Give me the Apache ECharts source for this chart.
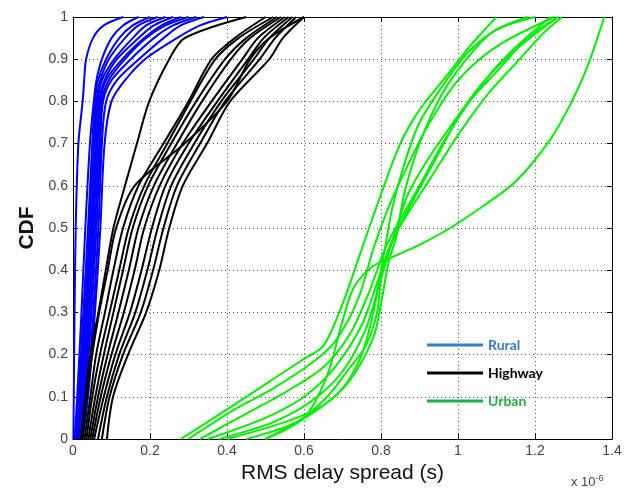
<!DOCTYPE html>
<html>
<head>
<meta charset="utf-8">
<script src="https://cdn.jsdelivr.net/npm/echarts@6/dist/echarts.min.js"></script>
<style>
html, body { margin: 0; padding: 0; background: #fff; }
#chart { width: 629px; height: 491px; }
</style>
</head>
<body>
<div id="chart"></div>
<script>
// x values are in units of 1e-6 s (axis shows "x 10^-6")
const ruralLevels = [0, 0.1, 0.3, 0.5, 0.7, 0.8, 0.85, 0.9, 0.95, 0.98, 1];
const ruralSpread = [
  [0.001, 0.002, 0.004, 0.007, 0.014, 0.025, 0.029, 0.034, 0.052, 0.08, 0.13],
  [0.004, 0.011, 0.022, 0.032, 0.044, 0.054, 0.061, 0.075, 0.1, 0.13, 0.17],
  [0.006, 0.014, 0.027, 0.039, 0.05, 0.057, 0.065, 0.086, 0.12, 0.155, 0.2],
  [0.007, 0.017, 0.031, 0.043, 0.054, 0.061, 0.071, 0.093, 0.135, 0.17, 0.22],
  [0.009, 0.02, 0.034, 0.047, 0.057, 0.064, 0.075, 0.107, 0.155, 0.19, 0.24],
  [0.011, 0.023, 0.037, 0.05, 0.061, 0.068, 0.082, 0.114, 0.17, 0.21, 0.26],
  [0.013, 0.026, 0.041, 0.053, 0.064, 0.071, 0.086, 0.128, 0.185, 0.23, 0.28],
  [0.014, 0.029, 0.044, 0.057, 0.068, 0.075, 0.093, 0.135, 0.19, 0.24, 0.3],
  [0.018, 0.032, 0.048, 0.061, 0.071, 0.078, 0.1, 0.15, 0.21, 0.26, 0.32],
  [0.021, 0.036, 0.053, 0.066, 0.075, 0.086, 0.114, 0.171, 0.235, 0.28, 0.34],
  [0.025, 0.039, 0.057, 0.071, 0.082, 0.1, 0.135, 0.187, 0.27, 0.33, 0.4],
];

const highwayLevels = [0, 0.1, 0.2, 0.3, 0.4, 0.5, 0.6, 0.7, 0.8, 0.9, 0.95, 1];
const highwaySpread = [
  [0.02, 0.032, 0.045, 0.066, 0.085, 0.105, 0.135, 0.166, 0.198, 0.25, 0.29, 0.45],
  [0.025, 0.036, 0.05, 0.068, 0.09, 0.112, 0.16, 0.29, 0.4, 0.46, 0.51, 0.6],
  [0.03, 0.045, 0.06, 0.083, 0.105, 0.13, 0.17, 0.235, 0.3, 0.36, 0.42, 0.5],
  [0.035, 0.05, 0.07, 0.095, 0.12, 0.145, 0.185, 0.245, 0.305, 0.37, 0.43, 0.52],
  [0.04, 0.058, 0.08, 0.105, 0.13, 0.155, 0.195, 0.255, 0.32, 0.395, 0.45, 0.53],
  [0.045, 0.065, 0.09, 0.118, 0.145, 0.17, 0.21, 0.27, 0.335, 0.41, 0.46, 0.54],
  [0.05, 0.072, 0.1, 0.132, 0.16, 0.185, 0.225, 0.285, 0.36, 0.44, 0.48, 0.55],
  [0.055, 0.08, 0.11, 0.148, 0.178, 0.205, 0.24, 0.3, 0.375, 0.455, 0.495, 0.56],
  [0.065, 0.088, 0.12, 0.162, 0.193, 0.22, 0.255, 0.315, 0.385, 0.47, 0.51, 0.57],
  [0.075, 0.095, 0.13, 0.176, 0.208, 0.235, 0.27, 0.33, 0.395, 0.485, 0.525, 0.58],
  [0.088, 0.104, 0.143, 0.19, 0.224, 0.25, 0.285, 0.348, 0.408, 0.51, 0.545, 0.6],
];

const urbanCurves = [
  [[0.28, 0], [0.4, 0.07], [0.5, 0.13], [0.6, 0.19], [0.65, 0.22], [0.7, 0.32], [0.75, 0.45], [0.8, 0.58], [0.85, 0.7], [0.9, 0.78], [0.97, 0.86], [1.03, 0.93], [1.1, 1]],
  [[0.3, 0], [0.42, 0.07], [0.52, 0.12], [0.62, 0.18], [0.68, 0.23], [0.74, 0.33], [0.78, 0.45], [0.82, 0.55], [0.86, 0.63], [0.92, 0.74], [1.0, 0.85], [1.1, 0.93], [1.25, 1]],
  [[0.33, 0], [0.45, 0.06], [0.55, 0.11], [0.65, 0.17], [0.72, 0.25], [0.77, 0.35], [0.81, 0.45], [0.85, 0.52], [0.9, 0.6], [0.96, 0.7], [1.03, 0.8], [1.1, 0.87], [1.18, 0.95], [1.26, 1]],
  [[0.35, 0], [0.5, 0.05], [0.6, 0.1], [0.68, 0.17], [0.75, 0.27], [0.79, 0.37], [0.83, 0.47], [0.88, 0.56], [0.94, 0.66], [1.0, 0.76], [1.08, 0.86], [1.16, 0.93], [1.26, 1]],
  [[0.38, 0], [0.52, 0.04], [0.62, 0.09], [0.7, 0.16], [0.76, 0.26], [0.8, 0.38], [0.84, 0.5], [0.87, 0.58], [0.92, 0.66], [0.98, 0.74], [1.06, 0.84], [1.14, 0.92], [1.24, 1]],
  [[0.4, 0], [0.55, 0.04], [0.65, 0.08], [0.72, 0.14], [0.78, 0.24], [0.8, 0.32], [0.82, 0.42], [0.84, 0.48], [0.86, 0.58], [0.9, 0.7], [0.96, 0.82], [1.04, 0.92], [1.1, 0.97], [1.2, 1]],
  [[0.5, 0], [0.6, 0.05], [0.66, 0.15], [0.7, 0.28], [0.73, 0.36], [0.78, 0.41], [0.84, 0.435], [0.91, 0.465], [0.98, 0.5], [1.07, 0.555], [1.15, 0.61], [1.24, 0.71], [1.29, 0.79], [1.335, 0.88], [1.38, 1]],
  [[0.5, 0], [0.62, 0.06], [0.7, 0.12], [0.75, 0.2], [0.78, 0.3], [0.8, 0.4], [0.81, 0.45], [0.83, 0.55], [0.86, 0.65], [0.9, 0.75], [0.97, 0.85], [1.03, 0.92], [1.1, 0.97], [1.18, 1]],
  [[0.45, 0], [0.58, 0.04], [0.66, 0.1], [0.72, 0.17], [0.76, 0.22], [0.79, 0.3], [0.8, 0.38], [0.82, 0.45], [0.86, 0.52], [0.93, 0.62], [1.0, 0.72], [1.08, 0.82], [1.16, 0.9], [1.22, 0.96], [1.27, 1]],
];

const legendNames = ['Rural', 'Highway', 'Urban'];
const lineColors = ['#0000ff', '#000000', '#00ee00'];
const legendColors = ['#3a78d8', '#000000', '#1db046'];

const zip = (xs, ys) => xs.map((x, i) => [x, ys[i]]);

const makeSeries = (name, color, data) => ({
  name,
  type: 'line',
  data,
  showSymbol: false,
  smooth: 0.3,
  lineStyle: { color, width: 2 },
  itemStyle: { color },
  emphasis: { disabled: true },
  xAxisIndex: 0,
  yAxisIndex: 0,
});

const series = [];
ruralSpread.forEach(xs => series.push(makeSeries('Rural', lineColors[0], zip(xs, ruralLevels))));
highwaySpread.forEach(xs => series.push(makeSeries('Highway', lineColors[1], zip(xs, highwayLevels))));
urbanCurves.forEach(pts => series.push(makeSeries('Urban', lineColors[2], pts)));

const labelStyle = { color: '#444', fontFamily: 'Liberation Sans', fontSize: 14 };
const dotted = { show: true, lineStyle: { color: '#555', type: [1, 3], width: 1 } };
const boxLine = { show: true, onZero: false, lineStyle: { color: '#000', width: 1 } };
const boxTick = { show: true, inside: true, length: 5, lineStyle: { color: '#000' } };

const chart = echarts.init(document.getElementById('chart'));
chart.setOption({
  animation: false,
  backgroundColor: '#fff',
  grid: { left: 73, right: 17, top: 17, bottom: 52 },
  legend: {
    orient: 'vertical',
    left: 427,
    top: 338,
    padding: 0,
    itemGap: 14,
    itemWidth: 56,
    itemHeight: 3,
    icon: 'rect',
    selectedMode: false,
    textStyle: { fontFamily: 'Lato', fontWeight: 'bold', fontSize: 14 },
    data: legendNames.map((n, i) => ({
      name: n,
      itemStyle: { color: legendColors[i] },
      textStyle: { color: legendColors[i] },
    })),
  },
  xAxis: [
    {
      type: 'value', min: 0, max: 1.4, interval: 0.2,
      name: 'RMS delay spread (s)', nameLocation: 'middle', nameGap: 17,
      nameTextStyle: { fontFamily: 'Liberation Sans', fontSize: 21, color: '#111' },
      axisLine: boxLine,
      axisTick: boxTick,
      axisLabel: { ...labelStyle, margin: 5 },
      splitLine: dotted,
    },
    {
      type: 'value', min: 0, max: 1.4, interval: 0.2, position: 'top',
      axisLine: boxLine,
      axisTick: boxTick,
      axisLabel: { show: false },
      splitLine: { show: false },
    },
  ],
  yAxis: [
    {
      type: 'value', min: 0, max: 1, interval: 0.1,
      name: 'CDF', nameLocation: 'middle', nameGap: 25,
      nameTextStyle: { fontFamily: 'Liberation Sans', fontSize: 21, fontWeight: 'bold', color: '#111' },
      axisLine: boxLine,
      axisTick: boxTick,
      axisLabel: { ...labelStyle, margin: 5 },
      splitLine: dotted,
    },
    {
      type: 'value', min: 0, max: 1, interval: 0.1, position: 'right',
      axisLine: boxLine,
      axisTick: boxTick,
      axisLabel: { show: false },
      splitLine: { show: false },
    },
  ],
  graphic: [
    {
      type: 'text',
      left: 571,
      top: 474,
      style: {
        text: 'x 10{sup|-6}',
        font: '13px "Liberation Sans"',
        fill: '#444',
        rich: { sup: { fontSize: 9, verticalAlign: 'top', padding: [0, 0, 8, 0], fill: '#444' } },
      },
    },
  ],
  series,
});
</script>
</body>
</html>
